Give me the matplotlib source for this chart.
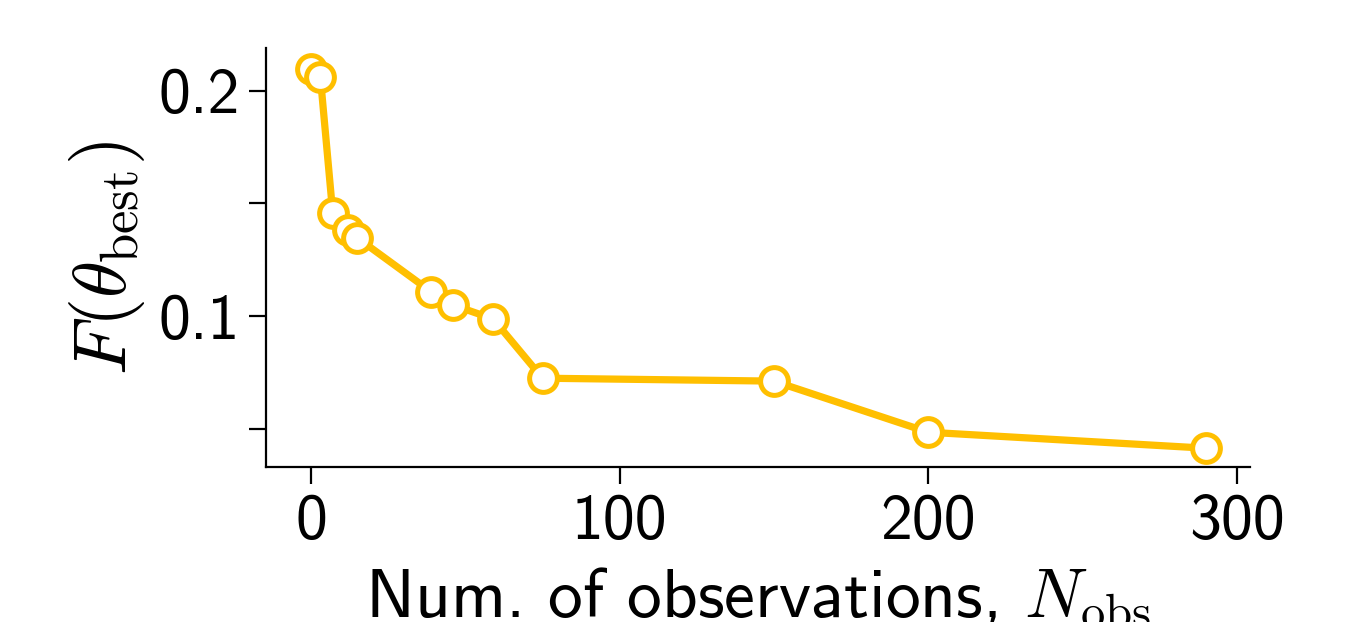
import matplotlib
matplotlib.use("Agg")
import matplotlib.pyplot as plt

n_obs = [0, 3, 7, 12, 15, 39, 46, 59, 75, 150, 200, 290]
f_best = [0.2098, 0.2062, 0.1458, 0.1382, 0.1347, 0.1107, 0.1049, 0.0987, 0.0724, 0.0711, 0.0484, 0.0413]
xticks = [0, 100, 200, 300]
yticks = [0.05, 0.1, 0.15, 0.2]
ytick_labels = ['', '0.1', '', '0.2']

plt.rcParams['font.family'] = ['cmss10', 'DejaVu Sans']
plt.rcParams['mathtext.fontset'] = 'cm'
plt.rcParams['axes.unicode_minus'] = False

fig = plt.figure(figsize=(6.77, 3.11), dpi=200)
ax = fig.add_axes([0.1965, 0.249, 0.7265, 0.674])
color = '#FFBF00'
ax.plot(n_obs, f_best, '-o', color=color, lw=2.6, markersize=10,
        markerfacecolor='white', markeredgecolor=color, markeredgewidth=1.8)
ax.set_xlim(-14.6, 304.2)
ax.set_ylim(0.0329, 0.2191)
ax.set_xticks(xticks)
ax.set_xticklabels([str(t) for t in xticks])
ax.set_yticks(yticks)
ax.set_yticklabels(ytick_labels)
ax.tick_params(labelsize=23, length=6, width=0.8)
for s in ['top', 'right']:
    ax.spines[s].set_visible(False)
for s in ['left', 'bottom']:
    ax.spines[s].set_linewidth(0.8)
ax.set_xlabel(r'Num. of observations, $N_\mathrm{obs}$', fontsize=25, labelpad=5)
ax.set_ylabel(r'$F(\theta_\mathrm{best})$', fontsize=27, labelpad=4)
fig.savefig('out.png', dpi=200)
